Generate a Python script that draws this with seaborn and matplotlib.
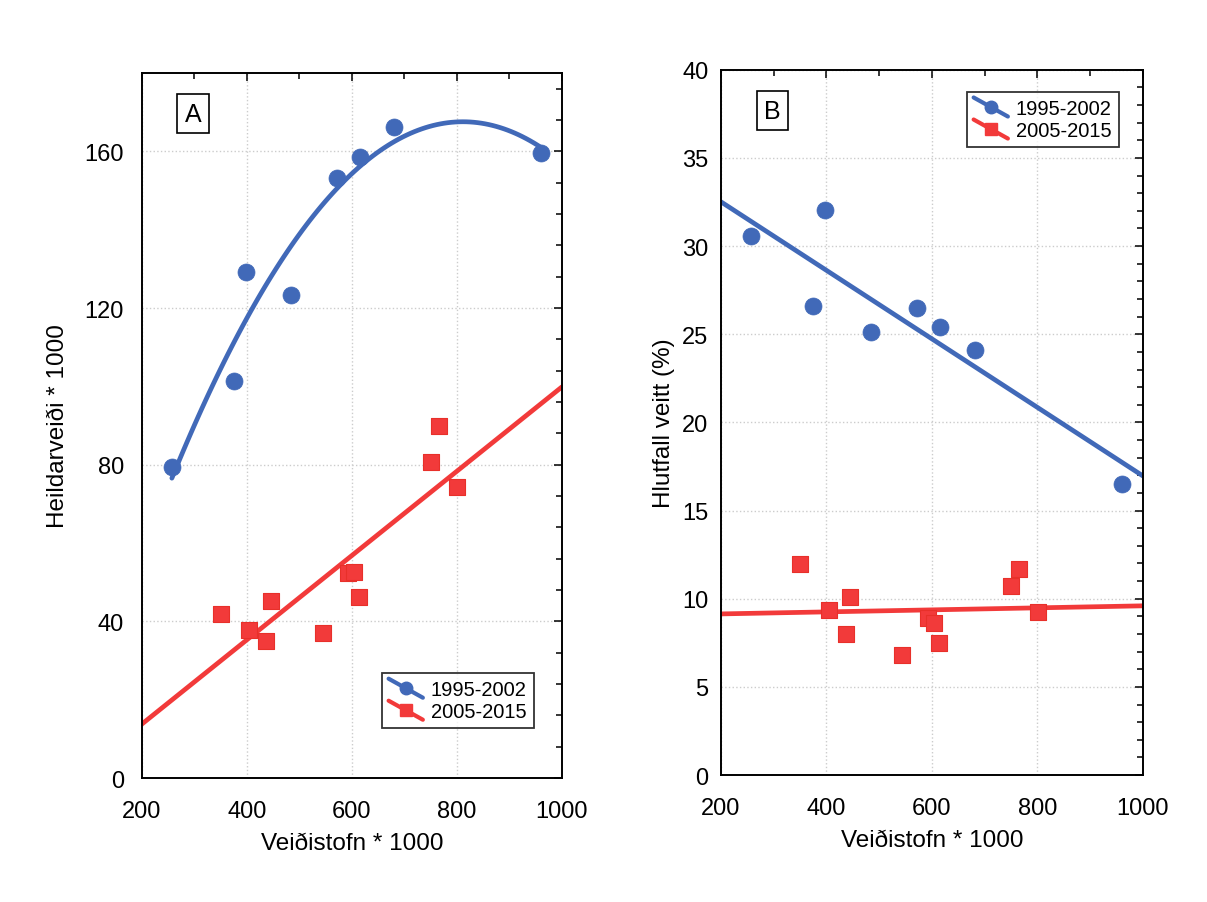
import numpy as np
import pandas as pd
import matplotlib
matplotlib.use("Agg")
import matplotlib.pyplot as plt
from matplotlib.lines import Line2D
from matplotlib.legend_handler import HandlerBase
from matplotlib.ticker import MultipleLocator
import seaborn as sns

# ── Data ──────────────────────────────────────────────────────────────────────
# 1995-2002
stock_early = [257, 375, 398, 484, 571, 616, 681, 960]
catch_early = [79.3, 101.4, 129.1, 123.4, 153.2, 158.5, 166.3, 159.6]
pct_early = [30.56, 26.6, 32.05, 25.1, 26.5, 25.4, 24.1, 16.5]

# 2005-2015
stock_late = [350, 404, 445, 437, 544, 593, 603, 613, 750, 765, 801]
catch_late = [42.0, 37.9, 45.1, 35.0, 37.1, 52.4, 52.6, 46.2, 80.7, 90.0, 74.4]
pct_late = [11.98, 9.38, 10.09, 7.98, 6.8, 8.9, 8.6, 7.5, 10.7, 11.7, 9.25]

labels = ["1995-2002", "2005-2015"]

early = pd.DataFrame({"stock": stock_early, "catch": catch_early, "pct": pct_early})
late = pd.DataFrame({"stock": stock_late, "catch": catch_late, "pct": pct_late})

BLUE = "#4169b8"
RED = "#f23a3a"

sns.set_theme(style="white")
plt.rcParams["font.family"] = ["Liberation Sans", "DejaVu Sans"]
plt.rcParams["text.color"] = "black"
plt.rcParams["axes.labelcolor"] = "black"
plt.rcParams["xtick.color"] = "black"
plt.rcParams["ytick.color"] = "black"


class DiagHandler(HandlerBase):
    # Statistica-style legend key: diagonal line with the marker in the middle
    def create_artists(self, legend, orig, xdescent, ydescent, width, height,
                       fontsize, trans):
        x0, y0 = -xdescent, -ydescent
        ln = Line2D([x0, x0 + width], [y0 + height * 1.15, y0 - height * 0.2],
                    color=orig.get_color(), lw=orig.get_linewidth(),
                    solid_capstyle="round", transform=trans)
        mk = Line2D([x0 + width / 2], [y0 + height / 2], ls="none",
                    marker=orig.get_marker(), ms=orig.get_markersize(),
                    color=orig.get_color(), transform=trans)
        return [ln, mk]


def style_axes(ax, ymax, ymajor, yminor, ypad):
    ax.set_xlim(200, 1000)
    ax.set_ylim(0, ymax)
    ax.xaxis.set_major_locator(MultipleLocator(200))
    ax.xaxis.set_minor_locator(MultipleLocator(100))
    ax.yaxis.set_major_locator(MultipleLocator(ymajor))
    ax.yaxis.set_minor_locator(MultipleLocator(yminor))
    ax.tick_params(which="both", direction="in", top=True, right=True,
                   color="black", labelcolor="black", width=1.1)
    ax.tick_params(which="major", length=6, labelsize=17)
    ax.tick_params(which="minor", length=4)
    ax.tick_params(axis="x", which="major", pad=16)
    ax.tick_params(axis="y", which="major", pad=ypad)
    ax.grid(True, which="major", color="#cccccc", linestyle=":", linewidth=1.0)
    for s in ax.spines.values():
        s.set_color("black")
        s.set_linewidth(1.4)


def add_legend(ax, loc, anchor):
    handles = [
        Line2D([], [], color=BLUE, lw=3, marker="o", ms=9),
        Line2D([], [], color=RED, lw=3, marker="s", ms=9),
    ]
    leg = ax.legend(handles, labels, loc=loc, bbox_to_anchor=anchor,
                    borderaxespad=0, fontsize=14.5, frameon=True, fancybox=False,
                    handlelength=1.7, handletextpad=0.4, borderpad=0.35,
                    labelspacing=0.15,
                    handler_map={Line2D: DiagHandler()})
    leg.get_frame().set_edgecolor("black")
    leg.get_frame().set_linewidth(1.3)


def panel_tag(ax, letter):
    ax.text(0.122, 0.942, letter, transform=ax.transAxes, fontsize=18,
            ha="center", va="center",
            bbox=dict(boxstyle="square,pad=0.3", fc="white", ec="black", lw=1.2))


fig = plt.figure(figsize=(12.07, 9.03), dpi=100)
ax1 = fig.add_axes([0.1176, 0.1373, 0.348, 0.7807])
ax2 = fig.add_axes([0.5973, 0.1406, 0.3496, 0.781])

# A ── total catch vs fishable stock
style_axes(ax1, 180, 40, 8, 13)
sns.regplot(data=early, x="stock", y="catch", order=2, ci=None, scatter=False,
            truncate=True, color=BLUE, line_kws={"lw": 3.4}, ax=ax1)
sns.regplot(data=late, x="stock", y="catch", ci=None, scatter=False,
            truncate=False, color=RED, line_kws={"lw": 3.4}, ax=ax1)
sns.scatterplot(data=early, x="stock", y="catch", marker="o", s=150,
                color=BLUE, edgecolor=BLUE, linewidth=0.5, zorder=3, ax=ax1)
sns.scatterplot(data=late, x="stock", y="catch", marker="s", s=125,
                color=RED, edgecolor="#e8302a", linewidth=0.8, zorder=3, ax=ax1)
ax1.set_xlim(200, 1000)
ax1.set_ylim(0, 180)
ax1.set_xlabel("Veiðistofn * 1000", fontsize=17.5, labelpad=7)
ax1.set_ylabel("Heildarveiði * 1000", fontsize=17.5, labelpad=11)
panel_tag(ax1, "A")
add_legend(ax1, "lower right", (0.933, 0.071))

# B ── exploitation rate vs fishable stock
style_axes(ax2, 40, 5, 1, 9)
sns.regplot(data=early, x="stock", y="pct", ci=None, scatter=False,
            truncate=False, color=BLUE, line_kws={"lw": 3.4}, ax=ax2)
sns.regplot(data=late, x="stock", y="pct", ci=None, scatter=False,
            truncate=False, color=RED, line_kws={"lw": 3.4}, ax=ax2)
sns.scatterplot(data=early, x="stock", y="pct", marker="o", s=150,
                color=BLUE, edgecolor=BLUE, linewidth=0.5, zorder=3, ax=ax2)
sns.scatterplot(data=late, x="stock", y="pct", marker="s", s=125,
                color=RED, edgecolor="#e8302a", linewidth=0.8, zorder=3, ax=ax2)
ax2.set_xlim(200, 1000)
ax2.set_ylim(0, 40)
ax2.set_xlabel("Veiðistofn * 1000", fontsize=17.5, labelpad=7)
ax2.set_ylabel("Hlutfall veitt (%)", fontsize=17.5, labelpad=5)
panel_tag(ax2, "B")
add_legend(ax2, "upper right", (0.943, 0.969))

fig.savefig("out.png", dpi=100, facecolor="white")
